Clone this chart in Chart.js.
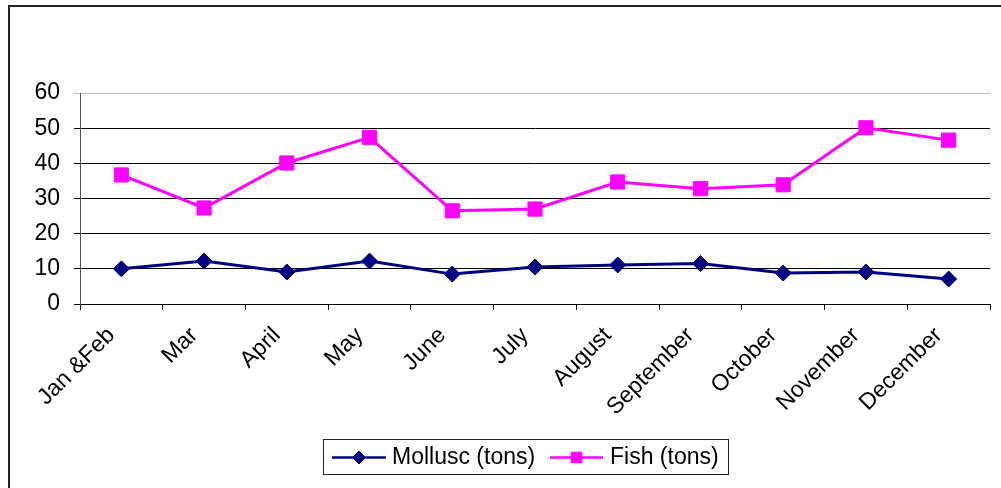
<!DOCTYPE html>
<html>
<head>
<meta charset="utf-8">
<script src="https://cdn.jsdelivr.net/npm/chart.js@4/dist/chart.umd.min.js"></script>
<style>
  html, body { margin: 0; padding: 0; background: #fff; }
  #wrap { width: 1001px; height: 488px; position: relative; }
</style>
</head>
<body>
<div id="wrap"><canvas id="c" width="1001" height="488"></canvas></div>
<script>
const categories = ["Jan &Feb", "Mar", "April", "May", "June", "July", "August", "September", "October", "November", "December"];
const molluscValues = [10.0, 12.2, 9.1, 12.2, 8.5, 10.5, 11.1, 11.5, 8.8, 9.1, 7.1];
const fishValues = [36.7, 27.3, 40.1, 47.4, 26.5, 27.0, 34.7, 32.8, 33.9, 50.1, 46.6];
const yTicks = [0, 10, 20, 30, 40, 50, 60];
const seriesNames = ["Mollusc (tons)", "Fish (tons)"];

const FONT = "'Liberation Sans', Arial, sans-serif";
const FSIZE = 23;

const frameAndLegend = {
  id: 'frameAndLegend',
  beforeDraw(chart) {
    const ctx = chart.ctx;
    ctx.save();
    ctx.fillStyle = '#fff';
    ctx.fillRect(0, 0, chart.width, chart.height);
    ctx.strokeStyle = '#222';
    ctx.lineWidth = 2;
    ctx.strokeRect(9, 6, 1100, 600);
    ctx.restore();
  },
  afterDraw(chart) {
    const ctx = chart.ctx;
    ctx.save();
    const bx = 323, by = 439, bw = 405, bh = 35;
    ctx.strokeStyle = '#222';
    ctx.lineWidth = 1;
    ctx.strokeRect(bx + 0.5, by + 0.5, bw, bh);
    const cy = by + bh / 2 + 1;
    const items = [
      {x1: 332, x2: 386, txt: 392, ds: chart.data.datasets[0], r: 6.5},
      {x1: 550, x2: 603, txt: 610, ds: chart.data.datasets[1], r: 7.5}
    ];
    items.forEach((it) => {
      ctx.strokeStyle = it.ds.borderColor;
      ctx.lineWidth = 2.5;
      ctx.beginPath();
      ctx.moveTo(it.x1, cy);
      ctx.lineTo(it.x2, cy);
      ctx.stroke();
      const mx = (it.x1 + it.x2) / 2;
      ctx.fillStyle = it.ds.pointBackgroundColor;
      ctx.strokeStyle = it.ds.pointBorderColor;
      ctx.lineWidth = 1;
      Chart.helpers.drawPoint(ctx, {
        pointStyle: it.ds.pointStyle, radius: it.r, rotation: 0, borderWidth: 1
      }, mx, cy);
      ctx.font = FSIZE + 'px ' + FONT;
      ctx.textBaseline = 'middle';
      ctx.textAlign = 'left';
      ctx.fillStyle = '#000';
      ctx.fillText(it.ds.label, it.txt, cy);
    });
    ctx.restore();
  }
};

new Chart(document.getElementById('c'), {
  type: 'line',
  data: {
    labels: categories,
    datasets: [
      {
        label: seriesNames[0],
        data: molluscValues,
        borderColor: '#000080',
        backgroundColor: '#000080',
        pointBackgroundColor: '#000080',
        pointBorderColor: '#000080',
        borderWidth: 3,
        pointStyle: 'rectRot',
        pointRadius: 8,
        pointBorderWidth: 1,
        tension: 0
      },
      {
        label: seriesNames[1],
        data: fishValues,
        borderColor: '#ff00ff',
        backgroundColor: '#ff00ff',
        pointBackgroundColor: '#ff00ff',
        pointBorderColor: '#ff00ff',
        borderWidth: 3,
        pointStyle: 'rect',
        pointRadius: 10,
        pointBorderWidth: 1,
        tension: 0
      }
    ]
  },
  options: {
    responsive: false,
    animation: false,
    devicePixelRatio: 1,
    layout: { padding: { left: 0, top: 93, right: 7, bottom: 0 } },
    plugins: { legend: { display: false }, tooltip: { enabled: false } },
    scales: {
      x: {
        offset: true,
        grid: { display: true, drawOnChartArea: false, drawTicks: true, tickLength: 6, offset: true, color: '#000', lineWidth: 1 },
        border: { display: true, color: '#000', width: 1 },
        ticks: {
          color: '#000', font: { family: FONT, size: FSIZE },
          minRotation: 45, maxRotation: 45, autoSkip: false, padding: 12, labelOffset: -10
        },
        afterFit(scale) { scale.height = 184; }
      },
      y: {
        min: 0, max: 60,
        afterBuildTicks(scale) { scale.ticks = yTicks.map(v => ({ value: v })); },
        grid: {
          drawOnChartArea: true, drawTicks: true, tickLength: 6,
          color: (c) => (c.tick && c.tick.value === 60) ? '#bbb' : '#000', lineWidth: 1
        },
        border: { display: true, color: '#555', width: 1 },
        ticks: { color: '#000', font: { family: FONT, size: FSIZE }, padding: 14 },
        afterFit(scale) { scale.width = 80; }
      }
    }
  },
  plugins: [frameAndLegend]
});
</script>
</body>
</html>
